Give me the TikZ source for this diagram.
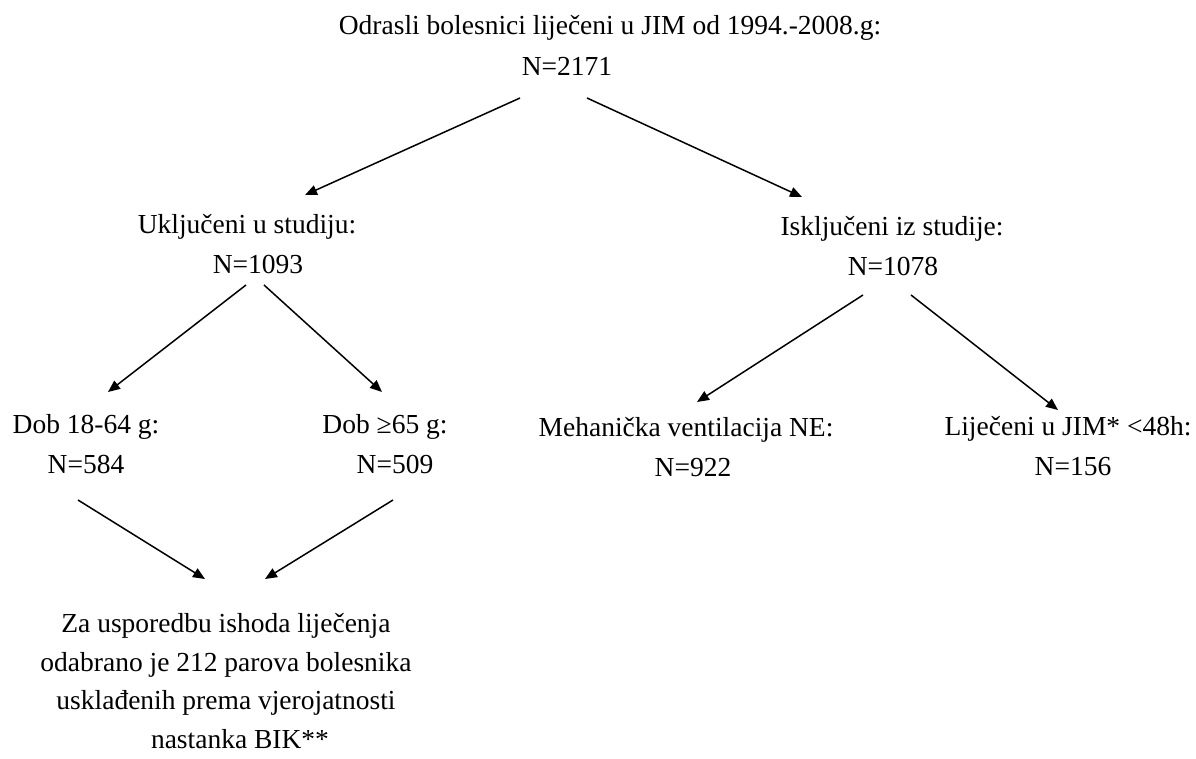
\documentclass[tikz,border=0pt]{standalone}
\usepackage{fontspec}
\setmainfont{Liberation Serif}
\usetikzlibrary{arrows.meta}
\begin{document}
\begin{tikzpicture}[x=1pt,y=-1pt,
  lbl/.style={inner sep=0pt,anchor=base,font=\fontsize{27.5}{40}\selectfont},
  conn/.style={line width=1.5pt,-{Triangle[length=12pt,width=10pt]}}]
\useasboundingbox (0,0) rectangle (1196,758);
% texts
\node[lbl] (top)  at (610,34) {Odrasli bolesnici liječeni u JIM od 1994.-2008.g:};
\node[lbl] (topN) at (567,75) {N=2171};
\node[lbl] (inc)  at (247,233) {Uključeni u studiju:};
\node[lbl] (incN) at (258,273) {N=1093};
\node[lbl] (exc)  at (892,235) {Isključeni iz studije:};
\node[lbl] (excN) at (893,275) {N=1078};
\node[lbl] (young)  at (86,433) {Dob 18-64 g:};
\node[lbl] (youngN) at (86,473) {N=584};
\node[lbl] (old)  at (385,433) {Dob ≥65 g:};
\node[lbl] (oldN) at (395,473) {N=509};
\node[lbl] (mv)  at (686,436) {Mehanička ventilacija NE:};
\node[lbl] (mvN) at (693,476) {N=922};
\node[lbl] (icu)  at (1068,435) {Liječeni u JIM* <48h:};
\node[lbl] (icuN) at (1073,475) {N=156};
\node[lbl,align=center,font=\fontsize{27.5}{38.5}\selectfont] (res) at (226,748)
  {Za usporedbu ishoda liječenja\\odabrano je 212 parova bolesnika\\usklađenih prema vjerojatnosti\\\hspace*{28pt}nastanka BIK**};
% connector end points
\coordinate (s1) at (520,98);  \coordinate (e1) at (305,195);
\coordinate (s2) at (587,98);  \coordinate (e2) at (802,197);
\coordinate (s3) at (246,285); \coordinate (e3) at (108,392);
\coordinate (s4) at (264,285); \coordinate (e4) at (382,392);
\coordinate (s5) at (863,295); \coordinate (e5) at (697,402);
\coordinate (s6) at (911,295); \coordinate (e6) at (1058,410);
\coordinate (s7) at (78,500);  \coordinate (e7) at (205,579);
\coordinate (s8) at (393,500); \coordinate (e8) at (265,579);
\draw[conn] (s1) -- (e1);
\draw[conn] (s2) -- (e2);
\draw[conn] (s3) -- (e3);
\draw[conn] (s4) -- (e4);
\draw[conn] (s5) -- (e5);
\draw[conn] (s6) -- (e6);
\draw[conn] (s7) -- (e7);
\draw[conn] (s8) -- (e8);
\end{tikzpicture}
\end{document}
